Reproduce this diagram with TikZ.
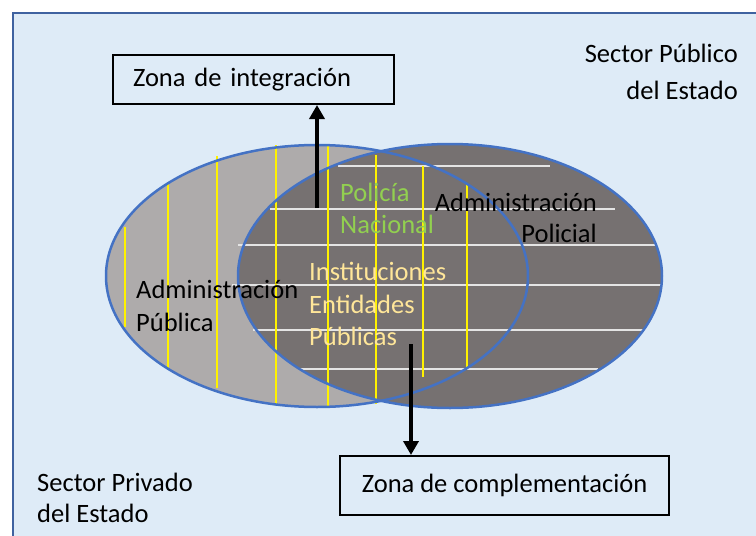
\documentclass[tikz,border=0pt]{standalone}
\usepackage{fontspec}
\setmainfont{Carlito}
\usetikzlibrary{arrows.meta}

\definecolor{fondo}{HTML}{DEEBF7}
\definecolor{marco}{HTML}{3F62A0}
\definecolor{borde}{HTML}{4472C4}
\definecolor{grisclaro}{HTML}{AEABAB}
\definecolor{grisoscuro}{HTML}{767171}
\definecolor{verde}{HTML}{92D050}
\definecolor{crema}{HTML}{FFE699}
\definecolor{lineab}{HTML}{E4E4E4}

\begin{document}
\begin{tikzpicture}[x=1pt,y=-1pt,
	texto/.style={inner sep=0pt,font=\fontsize{26.5}{33}\selectfont},
	caja/.style={draw,line width=2pt,fill=fondo,texto},
	flecha/.style={line width=4pt,-{Triangle[width=15pt,length=14pt]}}]
	\useasboundingbox (0,0) rectangle (756,536);
	\fill[white] (0,0) rectangle (756,536);
	\fill[fondo] (13,13) rectangle (756,536);
	\draw[marco,line width=2pt] (756,13) -- (13,13) -- (13,536);
	
	\fill[grisclaro] (317,276) ellipse [x radius=211pt, y radius=131pt];
	\fill[grisoscuro] (450,276) ellipse [x radius=212pt, y radius=132pt];
	
	\foreach \y/\a/\b in {166/338/550, 209/270/615, 245/238/656,
	   285/232/662, 330/253/643, 369/300/598}
	   \draw[lineab,line width=1.5pt] (\a,\y) -- (\b,\y);
	\foreach \x/\a/\b in {125/227/327, 168/183/369, 217/156/388, 276/145/405,
	   328/145/407, 376/155/404, 423/166/377, 467/183/369}
	   \draw[yellow,line width=1.5pt] (\x,\a) -- (\x,\b);
	
	\draw[borde,line width=2.5pt] (317,276) ellipse [x radius=211pt, y radius=131pt];
	\draw[borde,line width=2.5pt] (450,276) ellipse [x radius=212pt, y radius=132pt];
	
	\node[texto,anchor=west,align=left] (ap) at (136,306) {Administración\\Pública};
	\node[texto,anchor=west,align=left,text=verde,font=\fontsize{26.5}{32}\selectfont]
	   (pn) at (340,208) {Policía\\Nacional};
	\node[texto,anchor=west,align=left,text=crema,font=\fontsize{26.5}{32.5}\selectfont]
	   (ie) at (309,304) {Instituciones\\Entidades\\Públicas};
	\node[texto,anchor=east,align=right,font=\fontsize{26.5}{31.5}\selectfont]
	   (apol) at (597,218) {Administración\\Policial};
	\node[texto,anchor=east,align=right,font=\fontsize{26.5}{37}\selectfont]
	   (spub) at (738,72) {Sector Público\\del Estado};
	\node[texto,anchor=west,align=left,font=\fontsize{26.5}{31}\selectfont]
	   (spriv) at (37,498) {Sector Privado\\del Estado};
	
	\node[caja,anchor=north west,minimum width=281pt,minimum height=49pt,
	   text width=241pt,inner xsep=20pt,align=left] (zi) at (112,54) {Zona de integración};
	\node[caja,minimum width=329pt,minimum height=59pt] (zc) at (504.5,485.5)
	   {Zona de complementación};
	
	\coordinate (pi) at (317,208);
	\coordinate (pc) at (411,344);
	\draw[flecha] (pi) -- (zi.south -| pi);
	\draw[flecha] (pc) -- (zc.north -| pc);
\end{tikzpicture}
\end{document}
